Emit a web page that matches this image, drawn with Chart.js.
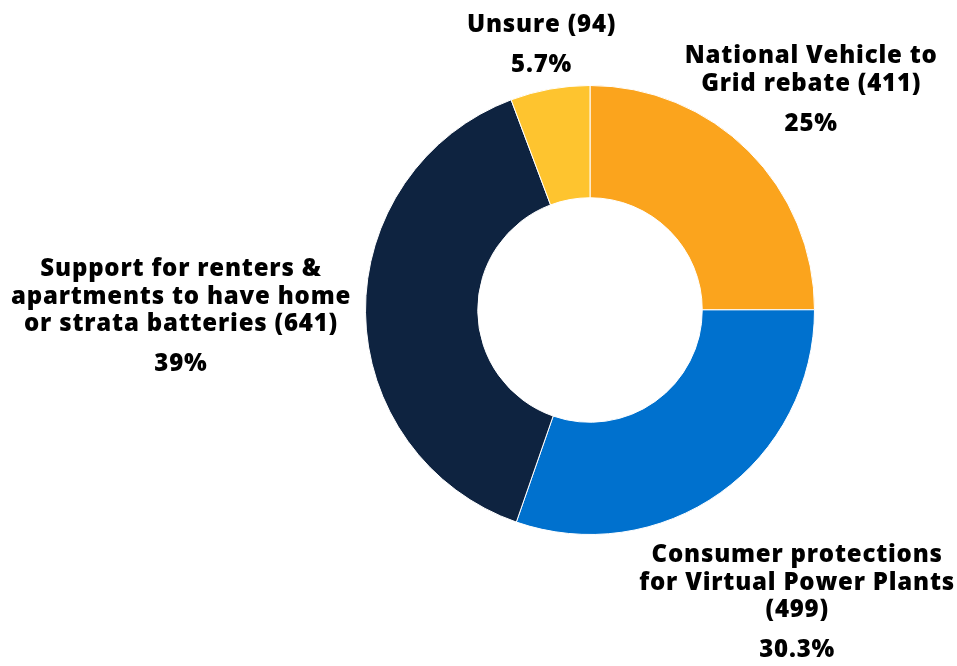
<!DOCTYPE html>
<html>
<head>
<meta charset="utf-8">
<script src="https://cdn.jsdelivr.net/npm/chart.js@4/dist/chart.umd.min.js"></script>
<style>
  html, body { margin: 0; padding: 0; background: #fff; }
  #wrap { width: 957px; height: 666px; position: relative; }
</style>
</head>
<body>
<div id="wrap"><canvas id="chart"></canvas></div>
<script>
// label lines, count is appended to the last line
const categories = [
  ["National Vehicle to", "Grid rebate"],
  ["Consumer protections", "for Virtual Power Plants", ""],
  ["Support for renters &", "apartments to have home", "or strata batteries"],
  ["Unsure"],
];
const counts = [411, 499, 641, 94];
const colors = ["#FBA41D", "#0071CE", "#0E2340", "#FEC42F"];

// how far out each label block sits, as a multiple of the outer radius
const labelReach = [1.394, 1.591, 1.822, 1.207];

const total = counts.reduce((a, b) => a + b, 0);
const pct = v => {
  const s = (v / total * 100).toFixed(1);
  return (s.endsWith(".0") ? s.slice(0, -2) : s) + "%";
};

const SIZE = 24;
const FONT = `800 ${SIZE}px 'Open Sans', Lato, sans-serif`;
const CAP_MID = SIZE * 0.357; // baseline to middle of capitals
const LINE = 27.6;
const PCT_GAP = 40;

const outsideLabels = {
  id: "outsideLabels",
  afterDatasetsDraw(chart) {
    const ctx = chart.ctx;
    const meta = chart.getDatasetMeta(0);
    ctx.save();
    ctx.font = FONT;
    ctx.letterSpacing = "0.8px";
    ctx.fillStyle = "#000";
    ctx.textAlign = "center";
    ctx.textBaseline = "alphabetic";
    meta.data.forEach((arc, i) => {
      const {x, y, startAngle, endAngle, outerRadius} = arc.getProps(["x", "y", "startAngle", "endAngle", "outerRadius"], true);
      const mid = (startAngle + endAngle) / 2;
      const d = outerRadius * labelReach[i];
      const cx = x + Math.cos(mid) * d;
      const cy = y + Math.sin(mid) * d;
      const lines = categories[i].slice();
      const last = lines.length - 1;
      lines[last] = (lines[last] + " (" + counts[i] + ")").trim();
      const h = (lines.length - 1) * LINE + PCT_GAP;
      let ty = cy - h / 2;
      lines.forEach(l => {
        ctx.fillText(l, cx, ty + CAP_MID);
        ty += LINE;
      });
      ctx.fillText(pct(counts[i]), cx, ty - LINE + PCT_GAP + CAP_MID);
    });
    ctx.restore();
  },
};

new Chart(document.getElementById("chart"), {
  type: "doughnut",
  data: {
    labels: categories.map(c => c.join(" ")),
    datasets: [{
      data: counts,
      backgroundColor: colors,
      borderColor: "#ffffff",
      borderWidth: 1,
    }],
  },
  options: {
    responsive: true,
    maintainAspectRatio: false,
    animation: false,
    cutout: "50%",
    layout: {padding: {top: 85, bottom: 131, left: 365, right: 142}},
    plugins: {
      legend: {display: false},
      tooltip: {enabled: false},
    },
  },
  plugins: [outsideLabels],
});
</script>
</body>
</html>
